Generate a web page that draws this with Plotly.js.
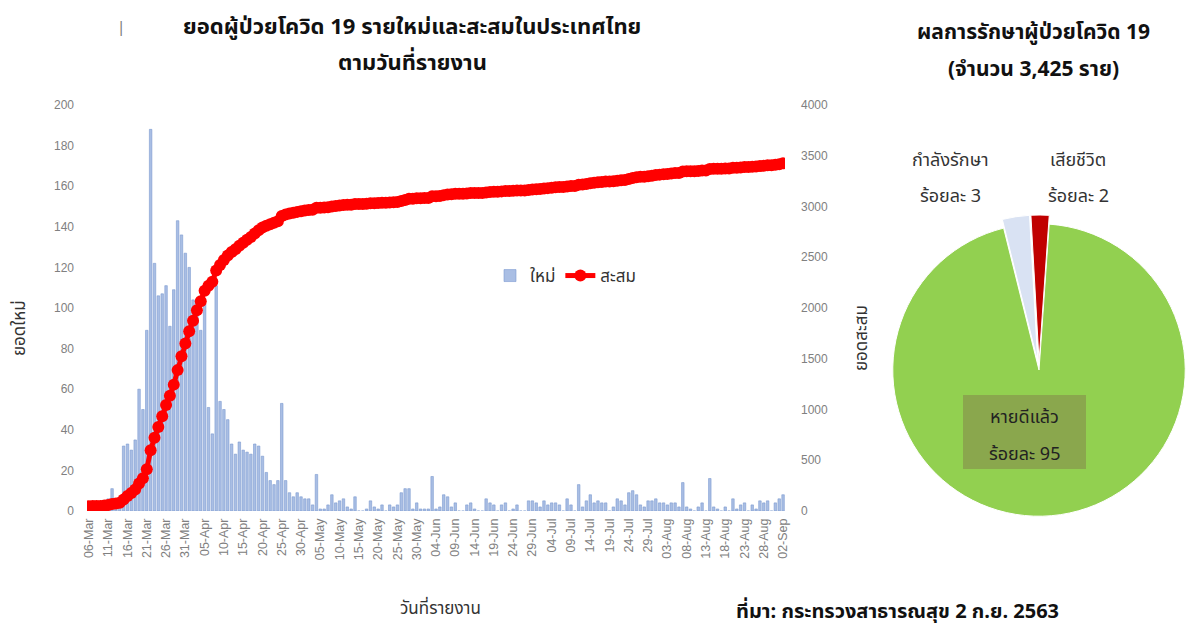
<!DOCTYPE html>
<html>
<head>
<meta charset="utf-8">
<script src="https://cdn.plot.ly/plotly-3.0.1.min.js"></script>
<style>html,body{margin:0;padding:0;background:#fff;}#chart{width:1194px;height:631px;}</style>
</head>
<body>
<div id="chart"></div>
<script>
// ---- Data (daily new cases, 06-Mar-2020 .. 02-Sep-2020) ----
const startDate = [2020, 2, 6];           // 06-Mar-2020
const cumulativeBefore = 47;              // total before 06-Mar
const marNew = [1,2,0,0,3,6,11,5,7,32,33,30,35,60,50,89,188,122,106,107,111,91,109,143,136,127];
const aprNew = [120,104,103,89,102,51,38,111,54,50,45,33,28,34,30,29,28,33,32,27,19,15,13,15,53,15,9,7,9,7];
const mayNew = [6,6,3,18,1,1,3,8,4,5,6,2,1,7,0,0,1,5,2,1,3,0,3,2,3,9,11,11,1,4,1];
const junNew = [1,1,17,1,2,8,7,2,4,0,0,3,4,1,0,0,6,4,3,0,3,4,0,1,3,0,0,5,5,4];
const julNew = [2,5,3,4,4,3,0,6,3,0,13,2,5,8,4,5,4,4,0,2,6,5,3,9,10,8,3,2,5,5,6];
const augNew = [4,4,3,4,4,2,14,2,1,0,2,4,0,16,2,1,0,2,0,6,1,3,4,0,3,1,5,4,5,0,4];
const sepNew = [6,8];

// Pie: treatment outcome
const pieLabels = ['หายดีแล้ว', 'กำลังรักษา', 'เสียชีวิต'];
const piePercent = [95, 3, 2];

// ---- Build series ----
const newCases = [].concat(marNew, aprNew, mayNew, junNew, julNew, augNew, sepNew);
const dates = newCases.map((_, i) => {
  const d = new Date(Date.UTC(startDate[0], startDate[1], startDate[2] + i));
  return d.toISOString().slice(0, 10);
});
const cumulative = [];
let run = cumulativeBefore;
newCases.forEach(v => { run += v; cumulative.push(run); });

const W = 1194, H = 631;
const px = x => x / W;
const py = y => (H - y) / H;

const thai = "Tahoma, 'Noto Sans Thai', 'Noto Sans Thai UI', 'Loma', 'Garuda', 'DejaVu Sans', sans-serif";
const tickFont = {family: "'Liberation Sans Narrow', 'Liberation Sans', Arial, sans-serif", size: 12.5, color: '#808080'};
const yTickFont = {family: "'Liberation Sans Narrow', 'Liberation Sans', Arial, sans-serif", size: 12, color: '#808080'};

const traces = [
  {
    type: 'bar', name: 'ใหม่', x: dates, y: newCases, xaxis: 'x', yaxis: 'y',
    marker: {color: '#a9bee4', line: {color: '#7c9bd0', width: 0.6}},
    hoverinfo: 'x+y'
  },
  {
    type: 'scatter', mode: 'lines+markers', name: 'สะสม', x: dates, y: cumulative, xaxis: 'x', yaxis: 'y2',
    line: {color: '#ff0000', width: 5},
    marker: {color: '#ff0000', size: 12}
  },
  {
    type: 'pie', labels: pieLabels, values: piePercent, sort: false, direction: 'clockwise', rotation: 4,
    marker: {colors: ['#92d050', '#d9e2f3', '#c00000'], line: {color: '#ffffff', width: 1}},
    pull: [0, 0.06, 0.06], textinfo: 'none', showlegend: false, hoverinfo: 'label+percent',
    domain: {x: [px(884), 1.0], y: [py(528), py(212)]}
  }
];

const annotations = [
  {text: '<b>ยอดผู้ป่วยโควิด 19 รายใหม่และสะสมในประเทศไทย</b>', x: px(412), y: py(28), font: {size: 22, color: '#111'}},
  {text: '<b>ตามวันที่รายงาน</b>', x: px(412), y: py(63), font: {size: 22, color: '#111'}},
  {text: '|', x: px(121), y: py(28), font: {size: 15, color: '#777'}},
  {text: 'ยอดใหม่', x: px(20), y: py(328), textangle: -90, font: {size: 17, color: '#333'}},
  {text: 'ยอดสะสม', x: px(862), y: py(338), textangle: -90, font: {size: 17, color: '#333'}},
  {text: 'วันที่รายงาน', x: px(440), y: py(609), font: {size: 17, color: '#333'}},
  {text: '<b>ผลการรักษาผู้ป่วยโควิด 19</b>', x: px(1033), y: py(32), font: {size: 21, color: '#111'}},
  {text: '<b>(จำนวน 3,425 ราย)</b>', x: px(1033), y: py(70), font: {size: 21, color: '#111'}},
  {text: 'กำลังรักษา', x: px(950), y: py(160), font: {size: 18, color: '#333'}},
  {text: 'ร้อยละ 3', x: px(950), y: py(196), font: {size: 18, color: '#333'}},
  {text: 'เสียชีวิต', x: px(1078), y: py(160), font: {size: 18, color: '#333'}},
  {text: 'ร้อยละ 2', x: px(1078), y: py(196), font: {size: 18, color: '#333'}},
  {text: 'หายดีแล้ว', x: px(1024), y: py(417), font: {size: 18, color: '#222'}},
  {text: 'ร้อยละ 95', x: px(1024), y: py(455), font: {size: 18, color: '#222'}},
  {text: '<b>ที่มา: กระทรวงสาธารณสุข 2 ก.ย. 2563</b>', x: px(897), y: py(612), font: {size: 20, color: '#111'}}
].map(a => Object.assign({xref: 'paper', yref: 'paper', showarrow: false, xanchor: 'center', yanchor: 'middle'}, a));

const layout = {
  width: W, height: H,
  margin: {l: 0, r: 0, t: 0, b: 0},
  paper_bgcolor: '#ffffff', plot_bgcolor: '#ffffff',
  font: {family: thai, color: '#333'},
  bargap: 0.35,
  xaxis: {
    type: 'date', domain: [px(87), px(785)],
    range: ['2020-03-05 12:00', '2020-09-02 12:00'],
    tick0: '2020-03-06', dtick: 5 * 86400000, tickformat: '%d-%b', tickangle: -90,
    tickfont: tickFont, showgrid: false, zeroline: false, showline: false, ticks: '',
    ticklabelstandoff: 4, anchor: 'y', fixedrange: true
  },
  yaxis: {
    domain: [py(511), py(105)], range: [0, 200], dtick: 20,
    tickfont: yTickFont, showgrid: false, zeroline: false, showline: false, ticks: '',
    ticklabelstandoff: 12, anchor: 'x'
  },
  yaxis2: {
    overlaying: 'y', side: 'right', range: [0, 4000], dtick: 500,
    tickfont: yTickFont, showgrid: false, zeroline: false, showline: false, ticks: '',
    ticklabelstandoff: 15, anchor: 'x'
  },
  showlegend: true,
  legend: {
    orientation: 'h', x: px(490), y: py(276), xanchor: 'left', yanchor: 'middle',
    font: {family: thai, size: 17, color: '#333'}, bgcolor: 'rgba(0,0,0,0)', itemwidth: 30
  },
  shapes: [
    {type: 'rect', xref: 'paper', yref: 'paper', x0: px(963), x1: px(1086), y0: py(469), y1: py(395),
     fillcolor: 'rgba(135,150,75,0.7)', line: {width: 0}, layer: 'above'}
  ],
  annotations: annotations
};

Plotly.newPlot('chart', traces, layout, {displayModeBar: false, staticPlot: true});
</script>
</body>
</html>
